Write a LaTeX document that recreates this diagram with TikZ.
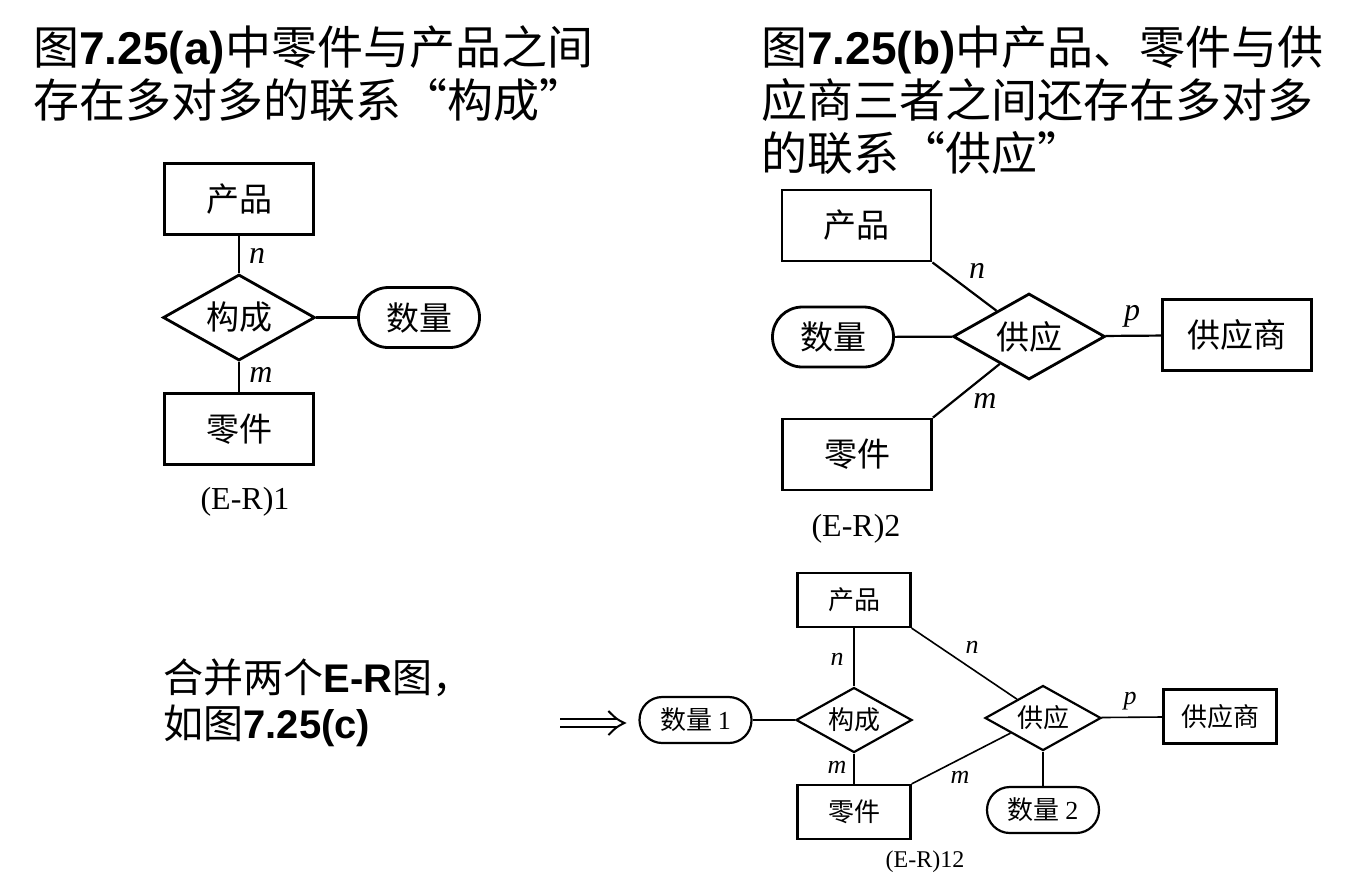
\documentclass[tikz,border=0pt]{standalone}
\usepackage{fontspec}
\setmainfont{Liberation Serif}
\newfontfamily\cjk{Noto Sans CJK SC}
\newfontfamily\hei{Liberation Sans}
\newcommand{\latb}[1]{{\hei\bfseries #1}}
\usetikzlibrary{calc,shapes.geometric}
\tikzset{
  entity/.style={draw=black, line width=1.4pt, inner sep=0pt, minimum width=74.5pt, minimum height=35.5pt, font=\cjk\fontsize{16.5}{18}\selectfont},
  relation/.style={draw=black, diamond, aspect=2, line width=1.4pt, inner sep=0pt, minimum width=76pt, minimum height=43pt, font=\cjk\fontsize{16.5}{18}\selectfont},
  attrib/.style={draw=black, rounded corners=14.9pt, line width=1.4pt, inner sep=0pt, minimum width=60.5pt, minimum height=30pt, font=\cjk\fontsize{16.5}{18}\selectfont},
  link/.style={line width=1.1pt},
  sentity/.style={entity, line width=1.1pt, minimum width=56.5pt, minimum height=27pt, font=\cjk\fontsize{13}{15}\selectfont},
  srelation/.style={relation, line width=1.1pt, minimum width=58pt, minimum height=32.5pt, font=\cjk\fontsize{13}{15}\selectfont},
  sattrib/.style={attrib, rounded corners=11.4pt, line width=1.1pt, minimum width=56pt, minimum height=23pt, font=\cjk\fontsize{13}{15}\selectfont},
  slink/.style={line width=0.8pt},
  merge/.style={double, double distance=3pt, line width=1pt},
  heading/.style={anchor=west, align=left, inner sep=0pt, font=\cjk\fontsize{23}{26.5}\selectfont}
}
\begin{document}
\begin{tikzpicture}[x=0.5pt, y=-0.5pt, card/.style={font=\itshape\fontsize{16}{18}\selectfont}, scard/.style={font=\itshape\fontsize{13}{15}\selectfont}, erlabel/.style={font=\fontsize{16}{18}\selectfont}]
\useasboundingbox (0,0) rectangle (1363,880);
% ---- (a) 构成 ----
\begin{scope}
\node[heading] (ha) at (33,73.5) {图\latb{7.25(a)}中零件与产品之间\\存在多对多的联系“构成”};
\node[entity] (p1) at (239,199) {产品};
\node[relation] (gc1) at (239,317.5) {构成};
\node[attrib] (sl1) at (419,317.5) {数量};
\node[entity] (l1) at (239,429) {零件};
\draw[link] (p1) -- (gc1);
\draw[link] (gc1) -- (l1);
\draw[link] (gc1) -- (sl1);
\node[card] at (257,256) {n};
\node[card] at (261,375) {m};
\node[erlabel] (er1) at (245,502) {(E-R)1};
\end{scope}
% ---- (b) 供应 ----
\begin{scope}
\node[heading] (hb) at (761,100) {图\latb{7.25(b)}中产品、零件与供\\应商三者之间还存在多对多\\的联系“供应”};
\node[entity] (p2) at (856.5,225.5) {产品};
\node[relation] (gy2) at (1029,336.5) {供应};
\node[attrib] (sl2) at (833,337) {数量};
\node[entity] (s2) at (1237,335) {供应商};
\node[entity] (l2) at (857,454.5) {零件};
\draw[link] (p2.south east) -- ($(gy2.west)!0.58!(gy2.north)$);
\draw[link] (l2.north east) -- ($(gy2.west)!0.62!(gy2.south)$);
\draw[link] (sl2) -- (gy2);
\draw[link] (gy2) -- (s2);
\node[card] at (977,271) {n};
\node[card] at (985,401) {m};
\node[card] at (1132,316) {p};
\node[erlabel] (er2) at (856,529) {(E-R)2};
\end{scope}
% ---- (c) 合并 ----
\begin{scope}
\node[heading, font=\cjk\fontsize{20}{23}\selectfont] (hc) at (163,703) {合并两个\latb{E-R}图，\\如图\latb{7.25(c)}};
\node[sentity] (p3) at (854,600) {产品};
\node[srelation] (gc3) at (854,720) {构成};
\node[sentity] (l3) at (854,812) {零件};
\node[sattrib] (sl3) at (695.5,720) {数量 {\rmfamily 1}};
\node[srelation] (gy3) at (1043,718) {供应};
\node[sentity] (s3) at (1220,716.5) {供应商};
\node[sattrib] (sl4) at (1043,810) {数量 {\rmfamily 2}};
% merge arrow
\coordinate (m0) at (560,723);
\coordinate (m1) at ($(sl3.west)+(-14,3)$);
\draw[merge] (m0) -- ($(m1)+(-6,0)$);
\draw[line width=1pt] ($(m1)+(-16,-12)$) .. controls ($(m1)+(-8,-4)$) .. (m1) .. controls ($(m1)+(-8,4)$) .. ($(m1)+(-16,12)$);
\draw[slink] (p3) -- (gc3);
\draw[slink] (gc3) -- (l3);
\draw[slink] (sl3) -- (gc3);
\draw[slink] (p3.south east) -- ($(gy3.west)!0.56!(gy3.north)$);
\draw[slink] (l3.north east) -- ($(gy3.west)!0.45!(gy3.south)$);
\draw[slink] (gy3) -- (s3);
\draw[slink] (gy3) -- (sl4);
\node[scard] at (837,659) {n};
\node[scard] at (972,647) {n};
\node[scard] at (837,767) {m};
\node[scard] at (960,777) {m};
\node[scard] at (1130,701) {p};
\node[erlabel, font=\fontsize{12}{14}\selectfont] (er3) at (925,862) {(E-R)12};
\end{scope}
\end{tikzpicture}
\end{document}
